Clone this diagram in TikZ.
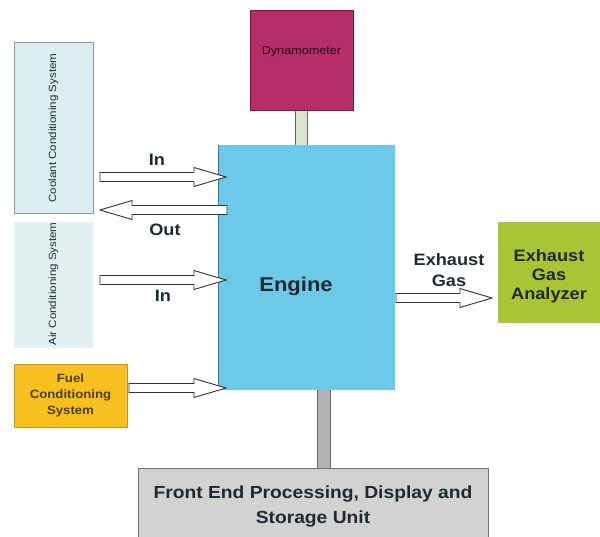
\documentclass[tikz,border=0pt]{standalone}
\usepackage{fontspec}
\setmainfont[FakeStretch=1.1]{Liberation Sans}
\usetikzlibrary{calc}
\definecolor{coolfill}{HTML}{DDEEF0}
\definecolor{airfill}{HTML}{E4F1F2}
\definecolor{fuelfill}{HTML}{F8C01E}
\definecolor{dynofill}{HTML}{B52E68}
\definecolor{engfill}{HTML}{6CCAE8}
\definecolor{egafill}{HTML}{A9C434}
\definecolor{fefill}{HTML}{D2D2D2}
\definecolor{shaftfill}{HTML}{DCE4CF}
\definecolor{txt}{HTML}{1E2A30}
\definecolor{fueltxt}{HTML}{4E3E10}
\tikzset{
  box/.style={inner sep=0pt, outer sep=0pt},
  barrow/.style={draw=black!80, fill=white, line width=0.9pt, line join=miter},
  lbl/.style={font=\fontsize{16.5}{18}\selectfont\bfseries, text=txt, inner sep=0pt},
}
\newcommand\rarrow[2]{%
  \draw[barrow] ($(#1)+(0,4.5)$) -- ($(#2)+(-32,4.5)$) -- ($(#2)+(-32,9.5)$) -- (#2)
    -- ($(#2)+(-32,-9.5)$) -- ($(#2)+(-32,-4.5)$) -- ($(#1)+(0,-4.5)$) -- cycle;}
\newcommand\larrow[2]{%
  \draw[barrow] ($(#1)+(0,4.5)$) -- ($(#2)+(32,4.5)$) -- ($(#2)+(32,9.5)$) -- (#2)
    -- ($(#2)+(32,-9.5)$) -- ($(#2)+(32,-4.5)$) -- ($(#1)+(0,-4.5)$) -- cycle;}
\begin{document}
\begin{tikzpicture}[x=1pt,y=-1pt]
\useasboundingbox (0,0) rectangle (600,536);
% boxes
\draw[box, fill=coolfill, draw=black!40, line width=0.8pt] (14,42) rectangle (93,213);
\node[box, rotate=90, font=\fontsize{10.5}{12}\selectfont, text=txt] (cool) at (53.5,128) {Coolant Conditioning System};
\fill[airfill] (14,222) rectangle (93,348);
\node[box, rotate=90, font=\fontsize{10.5}{12}\selectfont, text=txt] (air) at (53.5,284) {Air Conditioning System};
\draw[fill=fuelfill, draw=fuelfill!80!black, line width=0.4pt] (14,364) rectangle (127,427);
\node[box, align=center, font=\fontsize{12}{16}\selectfont\bfseries, text=fueltxt] (fuel) at (70.5,395) {Fuel\\Conditioning\\System};
% dynamometer and shaft
\draw[fill=shaftfill, draw=black!60, line width=0.6pt] (295,108) rectangle (307,146);
\draw[fill=dynofill, draw=dynofill!60!black, line width=0.6pt] (250,10) rectangle (353,110);
\node[box, font=\fontsize{11.5}{13}\selectfont, text=black!80!dynofill] (dyno) at (301.5,52) {Dynamometer};
% lower shaft
\draw[fill=fefill!85!black, draw=black!60, line width=0.8pt] (317,388) rectangle (330,470);
% engine
\fill[engfill] (218,145) rectangle (395,390);
\draw[engfill!60!black, line width=0.8pt] (218,145) -- (218,390);
\node[box, font=\fontsize{20}{22}\selectfont\bfseries, text=txt] (eng) at (296,286) {Engine};
% exhaust gas analyzer
\fill[egafill] (498,222) rectangle (600,323);
\node[lbl, align=center, font=\fontsize{16.5}{19}\selectfont\bfseries] (ega) at (549,276) {Exhaust\\Gas\\Analyzer};
% front end
\draw[fill=fefill, draw=black!55, line width=0.8pt] (138,468) rectangle (488,545);
\node[lbl, align=center, font=\fontsize{17.5}{25}\selectfont\bfseries] (fe) at (313,507) {Front End Processing, Display and\\Storage Unit};
% arrow coordinates
\coordinate (a1s) at (100,177); \coordinate (a1e) at (226,177);
\coordinate (a2s) at (227,210); \coordinate (a2e) at (100,210);
\coordinate (a3s) at (100,280); \coordinate (a3e) at (226,280);
\coordinate (a4s) at (129,388); \coordinate (a4e) at (226,388);
\coordinate (a5s) at (396,298); \coordinate (a5e) at (492,298);
\rarrow{a1s}{a1e}
\larrow{a2s}{a2e}
\rarrow{a3s}{a3e}
\rarrow{a4s}{a4e}
\rarrow{a5s}{a5e}
% labels
\node[lbl] (in1) at (157,160) {In};
\node[lbl] (out) at (165,230) {Out};
\node[lbl] (in2) at (163,296) {In};
\node[lbl, align=center, font=\fontsize{16.5}{21}\selectfont\bfseries] (exg) at (449,270) {Exhaust\\Gas};
\end{tikzpicture}
\end{document}
